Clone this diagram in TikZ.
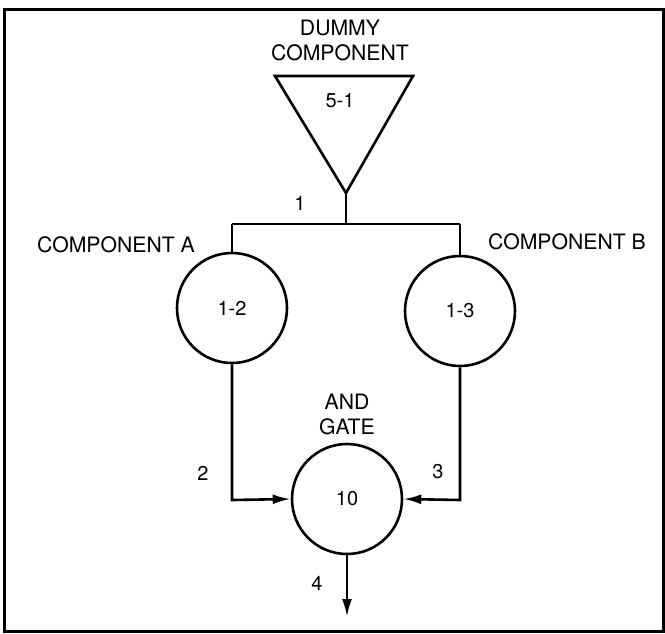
\documentclass[tikz,border=0pt]{standalone}
\usepackage{fontspec}
\setmainfont{TeX Gyre Heros}
\usetikzlibrary{arrows.meta}
\begin{document}
\begin{tikzpicture}[x=0.5pt,y=-0.5pt,
  line width=1.3pt,
  comp/.style={circle,draw,line width=1.3pt,minimum size=55pt,inner sep=0pt,font=\fontsize{10}{11}\selectfont},
  biglabel/.style={font=\fontsize{10.6}{12.5}\selectfont,inner sep=0pt,align=center},
  numlabel/.style={font=\fontsize{10}{11}\selectfont,inner sep=0pt},
  arr/.style={-{Latex[length=9pt,width=5pt]}}]
\useasboundingbox (0,0) rectangle (665,633);
\draw[line width=1.5pt] (4,9) rectangle (663,631);
% dummy component triangle
\coordinate (tl) at (275,76);
\coordinate (tr) at (413,76);
\coordinate (apex) at (346,193);
\draw[line join=miter] (tl) -- (tr) -- (apex) -- cycle;
\node[numlabel] (dummyid) at (340,101) {5-1};
\node[biglabel] (dummy) at (340,40) {DUMMY\\COMPONENT};
% junction line
\coordinate (junc) at (346,224);
\coordinate (jl) at (232,224);
\coordinate (jr) at (460,224);
\node[numlabel] (l1) at (300,203) {1};
% components
\node[comp] (A) at (232,308) {1-2};
\node[comp] (B) at (460,311) {1-3};
\node[comp] (G) at (347,499) {10};
\node[biglabel] (Alab) at (116,245) {COMPONENT A};
\node[biglabel] (Blab) at (567,242) {COMPONENT B};
\node[biglabel] (Glab) at (347,414) {AND\\GATE};
% connectors
\draw (apex) -- (junc);
\draw (jl) -- (jr);
\draw (jl) -- (A.north);
\draw (jr) -- (B.north);
\coordinate (ca) at (232,500);
\coordinate (cb) at (460,500);
\coordinate (out) at (347,617);
\draw[arr] (A.south) -- (ca) -- (G.west);
\draw[arr] (B.south) -- (cb) -- (G.east);
\draw[arr] (G.south) -- (out);
\node[numlabel] (l2) at (203,473) {2};
\node[numlabel] (l3) at (438,472) {3};
\node[numlabel] (l4) at (317,583) {4};
\end{tikzpicture}
\end{document}
